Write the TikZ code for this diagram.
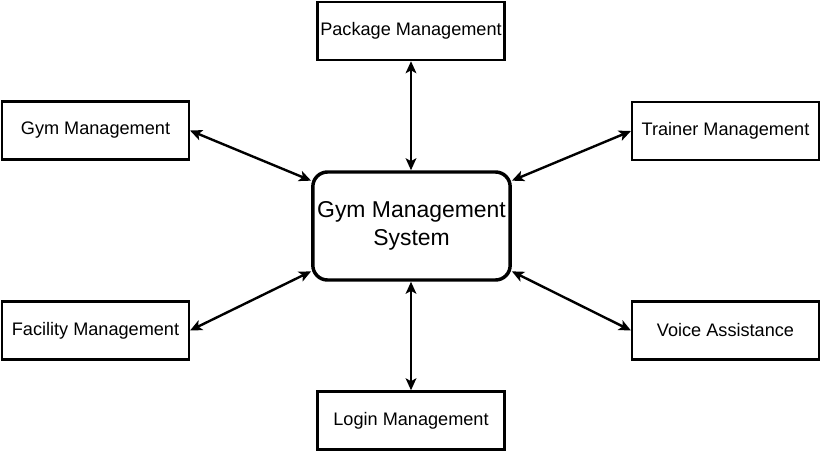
\documentclass[tikz,border=0pt]{standalone}
\usepackage{fontspec}
\setmainfont{Liberation Sans}
\usepackage{tikz}
\usetikzlibrary{positioning, arrows.meta}
\tikzstyle{diagram} = [x = .75pt, y = -.75pt]
\tikzstyle{moduleBox} = [draw=black, fill=white, line width=1.8pt, minimum width=140pt, minimum height=43.5pt, inner sep=0pt, font=\fontsize{13.6}{16}\selectfont]
\tikzstyle{systemBox} = [draw=black, fill=white, line width=2.6pt, rounded corners=11pt, minimum width=148pt, minimum height=81pt, inner sep=0pt, align=center, font=\fontsize{17.2}{21}\selectfont]
\tikzstyle{linkLine} = [line width=1.8pt, {Stealth[length=9pt, width=8pt, inset=2.2pt]}-{Stealth[length=9pt, width=8pt, inset=2.2pt]}]
\newcommand{\offset}{34pt}
\newcommand{\moduleLink}[2]{\draw [linkLine] (#1) -- (#2);}

\begin{document}
\begin{tikzpicture}[diagram]
        \useasboundingbox (0,0) rectangle (824,454);

        \node [systemBox] (system) at (411.5,226) {Gym Management\\System};

        \node [moduleBox] (package) at (411,31) {Package Management};
        \node [moduleBox] (login) at (411,420.5) {Login Management};
        \node [moduleBox] (gym) at (95.5,130.5) {Gym Management};
        \node [moduleBox] (facility) at (95.5,330.5) {Facility Management};
        \node [moduleBox] (trainer) at (725.5,131) {Trainer Management};
        \node [moduleBox] (voice) at (725.5,330.5) {Voice Assistance};

        \moduleLink{package.south}{system.north -| package.south}
        \moduleLink{login.north}{system.south -| login.north}
        \moduleLink{gym.east}{[yshift=\offset]system.west}
        \moduleLink{facility.east}{[yshift=-\offset]system.west}
        \moduleLink{trainer.west}{[yshift=\offset]system.east}
        \moduleLink{voice.west}{[yshift=-\offset]system.east}
      \end{tikzpicture}
\end{document}
